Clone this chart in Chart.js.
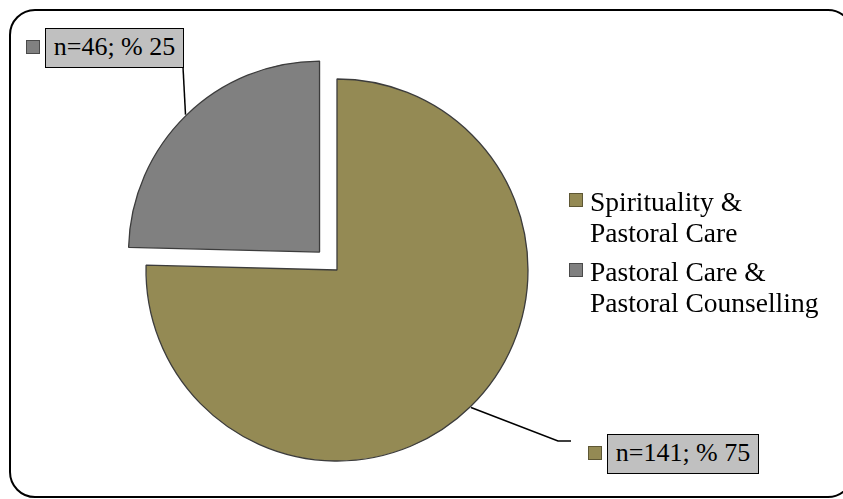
<!DOCTYPE html>
<html>
<head>
<meta charset="utf-8">
<script src="https://cdn.jsdelivr.net/npm/chart.js@4"></script>
<style>
  html, body { margin: 0; padding: 0; background: #ffffff; }
  #wrap { position: relative; width: 843px; height: 499px; overflow: hidden; font-family: "Liberation Serif", "DejaVu Serif", serif; color: #000; }
  #frame { position: absolute; left: 9px; top: 9px; border: 2.5px solid #000; border-radius: 26px; box-sizing: border-box; width: 845px; height: 489px; }
  canvas { position: absolute; left: 0; top: 0; }
  .key { position: absolute; width: 14px; height: 14px; box-sizing: border-box; border: 1.5px solid #3a3a3a; }
  .legtext { position: absolute; font-size: 27.5px; line-height: 31px; white-space: nowrap; }
  .lbl { position: absolute; background: #c0c0c0; border: 1.5px solid #000; box-sizing: border-box; font-size: 26px; line-height: 36px; white-space: nowrap; text-align: center; }
</style>
</head>
<body>
<div id="wrap">
  <div id="frame"></div>
  <canvas id="c" width="843" height="499"></canvas>
  <div id="legend"></div>
  <div id="labels"></div>
</div>
<script>
const categories = [["Spirituality &", "Pastoral Care"], ["Pastoral Care &", "Pastoral Counselling"]];
const counts = [141, 46];
const percents = [75, 25];
const colors = ["#948a54", "#808080"];
const keyBorders = ["#5e5734", "#4a4a4a"];
const dataLabels = counts.map((n, i) => "n=" + n + "; % " + percents[i]);

// label box layout (left, top, width, height) and key position
const labelBoxes = [
  { box: [607, 434, 152, 40], key: [588, 446], elbow: [558, 441], end: [571, 441] },
  { box: [45, 28, 139, 40], key: [26, 40], elbow: null, end: [183, 67] }
];

// legend
const legend = document.getElementById('legend');
const legTops = [186, 256];
categories.forEach((lines, i) => {
  const k = document.createElement('div');
  k.className = 'key';
  k.style.left = '569px'; k.style.top = (legTops[i] + 7) + 'px';
  k.style.background = colors[i]; k.style.borderColor = keyBorders[i];
  legend.appendChild(k);
  const t = document.createElement('div');
  t.className = 'legtext';
  t.style.left = '590px'; t.style.top = legTops[i] + 'px';
  t.innerHTML = lines.join('<br>');
  legend.appendChild(t);
});

// data labels
const labelsDiv = document.getElementById('labels');
labelBoxes.forEach((lb, i) => {
  const k = document.createElement('div');
  k.className = 'key';
  k.style.left = lb.key[0] + 'px'; k.style.top = lb.key[1] + 'px';
  k.style.background = colors[i]; k.style.borderColor = keyBorders[i];
  labelsDiv.appendChild(k);
  const b = document.createElement('div');
  b.className = 'lbl';
  b.style.left = lb.box[0] + 'px'; b.style.top = lb.box[1] + 'px';
  b.style.width = lb.box[2] + 'px'; b.style.height = lb.box[3] + 'px';
  b.textContent = dataLabels[i];
  labelsDiv.appendChild(b);
});

const leaderLines = {
  id: 'leaderLines',
  afterDatasetsDraw(chart) {
    const ctx = chart.ctx;
    const meta = chart.getDatasetMeta(0);
    meta.data.forEach((arc, i) => {
      const p = arc.getProps(['x', 'y', 'startAngle', 'endAngle', 'outerRadius'], true);
      const mid = (p.startAngle + p.endAngle) / 2;
      const off = (arc.options.offset || 0) / 4;
      const cx = p.x + Math.cos(mid) * off;
      const cy = p.y + Math.sin(mid) * off;
      const r = p.outerRadius + 1;
      const sx = cx + Math.cos(mid) * r;
      const sy = cy + Math.sin(mid) * r;
      const lb = labelBoxes[i];
      ctx.save();
      ctx.strokeStyle = '#000';
      ctx.lineWidth = 1.5;
      ctx.beginPath();
      ctx.moveTo(sx, sy);
      if (lb.elbow) ctx.lineTo(lb.elbow[0], lb.elbow[1]);
      ctx.lineTo(lb.end[0], lb.end[1]);
      ctx.stroke();
      ctx.restore();
    });
  }
};

new Chart(document.getElementById('c'), {
  type: 'pie',
  data: {
    labels: categories.map(l => l.join(' ')),
    datasets: [{
      data: counts,
      backgroundColor: colors,
      borderColor: '#3c3c3c',
      borderWidth: 1.3,
      offset: [0, 100],
      hoverOffset: 0
    }]
  },
  options: {
    responsive: false,
    animation: false,
    events: [],
    radius: 191,
    layout: { padding: { left: 0, right: 169, top: 41, bottom: 0 } },
    plugins: { legend: { display: false }, tooltip: { enabled: false } }
  },
  plugins: [leaderLines]
});
</script>
</body>
</html>
